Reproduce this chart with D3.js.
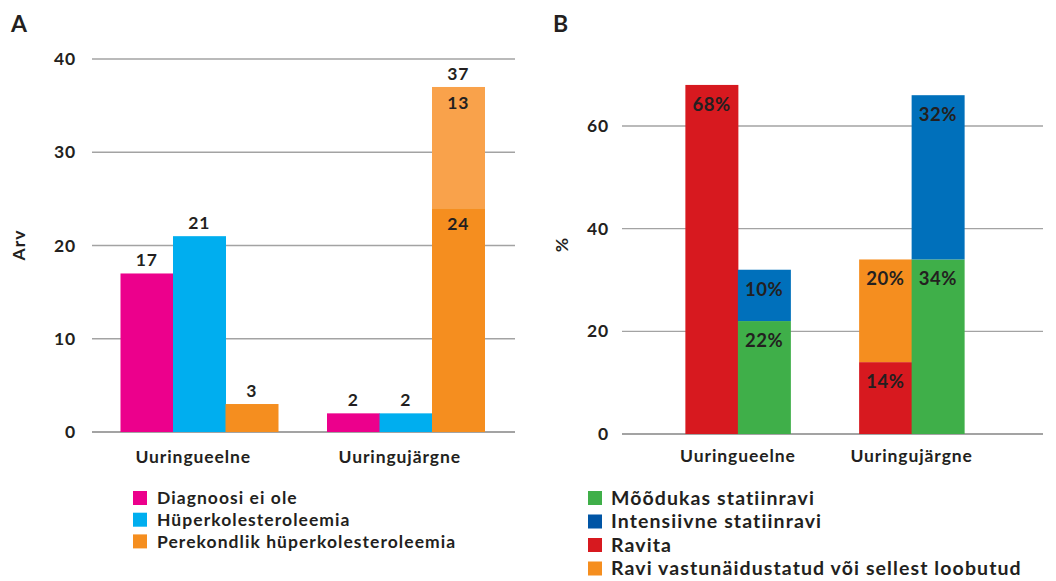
<!DOCTYPE html>
<html>
<head>
<meta charset="utf-8">
<script src="https://cdn.jsdelivr.net/npm/d3@7"></script>
<style>
  body { margin: 0; background: #fff; }
  text { font-family: "Lato", "Open Sans", sans-serif; font-weight: 700; fill: #231f20; }
</style>
</head>
<body>
<svg id="chart" width="1056" height="581"></svg>
<script>
// Data, panel A
const catsA = ['Uuringueelne', 'Uuringujärgne'];
const seriesA = ['Diagnoosi ei ole', 'Hüperkolesteroleemia', 'Perekondlik hüperkolesteroleemia'];
const diagnoosi = [17, 2];
const hyper = [21, 2];
const perekondlik = [[3], [24, 13]];   // second group is stacked
const totalsA = [null, 37];
const ticksA = [0, 10, 20, 30, 40];

// Data, panel B
const catsB = ['Uuringueelne', 'Uuringujärgne'];
const seriesB = ['Mõõdukas statiinravi', 'Intensiivne statiinravi', 'Ravita', 'Ravi vastunäidustatud või sellest loobutud'];
const ravita = [68, 14];
const vastu = [0, 20];
const moodukas = [22, 34];
const intensiivne = [10, 32];
const ticksB = [0, 20, 40, 60];

// Colours
const colA = ['#ec008c', '#00aeef', '#f58e1f'];
const lightOrange = '#f9a24b';
const colB = {mood: '#3faf49', int: '#0070bb', intLegend: '#0055a5', rav: '#d7191f', vastu: '#f58e1f'};

const svg = d3.select('#chart');

// ---------- Panel A ----------
const xA = d3.scaleBand().domain(catsA).range([96, 509]);
const yA = d3.scaleLinear().domain([0, 40]).range([432, 59]);
const bw = 52.5;

const gA = svg.append('g');
gA.append('g').selectAll('line')
    .data(ticksA)
    .join('line')
        .attr('x1', 92).attr('x2', 515)
        .attr('y1', d => yA(d)).attr('y2', d => yA(d))
        .attr('stroke', '#a3a3a3').attr('stroke-width', d => d === 0 ? 2 : 1.3);
gA.append('g').selectAll('text')
    .data(ticksA)
    .join('text')
        .attr('x', 76).attr('y', d => yA(d))
        .attr('dy', '0.35em').attr('text-anchor', 'end')
        .style('font-size', '17.5px').style('letter-spacing', '0.8px')
        .text(d => d);

// group center offsets
const centerA = c => xA(c) + xA.bandwidth() / 2;
const barsA = [];
catsA.forEach((c, i) => {
    const x0 = centerA(c) - 1.5 * bw;
    barsA.push({x: x0, y0: 0, y1: diagnoosi[i], fill: colA[0], label: diagnoosi[i], pos: 'above'});
    barsA.push({x: x0 + bw, y0: 0, y1: hyper[i], fill: colA[1], label: hyper[i], pos: 'above'});
    let base = 0;
    perekondlik[i].forEach((v, k) => {
        const stacked = perekondlik[i].length > 1;
        barsA.push({x: x0 + 2 * bw, y0: base, y1: base + v, fill: k === 0 ? colA[2] : lightOrange,
                    label: v, pos: stacked ? 'inside' : 'above'});
        base += v;
    });
    if (totalsA[i] !== null) {
        barsA.push({x: x0 + 2 * bw, y0: totalsA[i], y1: totalsA[i], fill: 'none', label: totalsA[i], pos: 'above'});
    }
});
gA.append('g').selectAll('rect')
    .data(barsA.filter(d => d.fill !== 'none'))
    .join('rect')
        .attr('x', d => d.x).attr('width', bw + 0.5)
        .attr('y', d => yA(d.y1)).attr('height', d => yA(d.y0) - yA(d.y1))
        .attr('fill', d => d.fill);
gA.append('g').selectAll('text')
    .data(barsA)
    .join('text')
        .attr('x', d => d.x + bw / 2)
        .attr('y', d => d.pos === 'above' ? yA(d.y1) - 7 : yA(d.y1) + 22)
        .attr('text-anchor', 'middle')
        .style('font-size', '17.5px').style('letter-spacing', '0.8px')
        .text(d => d.label);
gA.append('g').selectAll('text')
    .data(catsA)
    .join('text')
        .attr('x', d => centerA(d) - 6).attr('y', 463)
        .attr('text-anchor', 'middle')
        .style('font-size', '17.5px').style('letter-spacing', '0.9px')
        .text(d => d);
gA.append('text')
    .attr('transform', 'translate(25,245) rotate(-90)')
    .attr('text-anchor', 'middle')
    .style('font-size', '17.5px').style('letter-spacing', '1px')
    .text('Arv');
gA.append('text').attr('x', 11).attr('y', 32).style('font-size', '23px').text('A');

const legA = gA.append('g').selectAll('g')
    .data(seriesA)
    .join('g')
        .attr('transform', (_, i) => `translate(133,${491 + i * 21.7})`);
legA.append('rect').attr('width', 14).attr('height', 14).attr('fill', (_, i) => colA[i]);
legA.append('text').attr('x', 24).attr('y', 7).attr('dy', '0.35em')
    .style('font-size', '17.5px').style('letter-spacing', '1.05px').text(d => d);

// ---------- Panel B ----------
const xB = d3.scaleBand().domain(catsB).range([651, 998.5]);
const yB = d3.scaleLinear().domain([0, 60]).range([434, 126]);
const bwB = 52.5;

const gB = svg.append('g');
gB.append('g').selectAll('line')
    .data(ticksB)
    .join('line')
        .attr('x1', 622).attr('x2', 1043)
        .attr('y1', d => yB(d)).attr('y2', d => yB(d))
        .attr('stroke', '#a3a3a3').attr('stroke-width', d => d === 0 ? 2 : 1.3);
gB.append('g').selectAll('text')
    .data(ticksB)
    .join('text')
        .attr('x', 609).attr('y', d => yB(d))
        .attr('dy', '0.35em').attr('text-anchor', 'end')
        .style('font-size', '17.5px').style('letter-spacing', '0.8px')
        .text(d => d);

const centerB = c => xB(c) + xB.bandwidth() / 2;
const barsB = [];
catsB.forEach((c, i) => {
    const x0 = centerB(c) - bwB;
    // left stack: Ravita + vastunäidustatud
    barsB.push({x: x0, y0: 0, y1: ravita[i], fill: colB.rav, label: ravita[i]});
    if (vastu[i] > 0) barsB.push({x: x0, y0: ravita[i], y1: ravita[i] + vastu[i], fill: colB.vastu, label: vastu[i]});
    // right stack: mõõdukas + intensiivne
    barsB.push({x: x0 + bwB, y0: 0, y1: moodukas[i], fill: colB.mood, label: moodukas[i]});
    barsB.push({x: x0 + bwB, y0: moodukas[i], y1: moodukas[i] + intensiivne[i], fill: colB.int, label: intensiivne[i]});
});
gB.append('g').selectAll('rect')
    .data(barsB)
    .join('rect')
        .attr('x', d => d.x).attr('width', bwB + 0.5)
        .attr('y', d => yB(d.y1)).attr('height', d => yB(d.y0) - yB(d.y1))
        .attr('fill', d => d.fill);
gB.append('g').selectAll('text')
    .data(barsB)
    .join('text')
        .attr('x', d => d.x + bwB / 2)
        .attr('y', d => yB(d.y1) + 26)
        .attr('text-anchor', 'middle')
        .style('font-size', '18.5px').style('letter-spacing', '0.6px')
        .text(d => d.label + '%');
gB.append('g').selectAll('text')
    .data(catsB)
    .join('text')
        .attr('x', d => centerB(d)).attr('y', 462)
        .attr('text-anchor', 'middle')
        .style('font-size', '17.5px').style('letter-spacing', '0.9px')
        .text(d => d);
gB.append('text')
    .attr('transform', 'translate(568,245) rotate(-90)')
    .attr('text-anchor', 'middle')
    .style('font-size', '17.5px')
    .text('%');
gB.append('text').attr('x', 553).attr('y', 32).style('font-size', '23px').text('B');

const legColB = [colB.mood, colB.intLegend, colB.rav, colB.vastu];
const legB = gB.append('g').selectAll('g')
    .data(seriesB)
    .join('g')
        .attr('transform', (_, i) => `translate(588,${491 + i * 23.5})`);
legB.append('rect').attr('width', 14).attr('height', 14).attr('fill', (_, i) => legColB[i]);
legB.append('text').attr('x', 23).attr('y', 7).attr('dy', '0.35em')
    .style('font-size', '19.5px').style('letter-spacing', '1.1px').text(d => d);
</script>
</body>
</html>
